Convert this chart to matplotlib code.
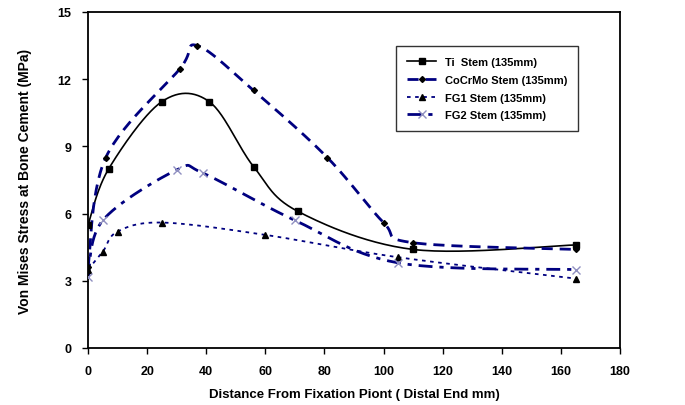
import numpy as np
import matplotlib
matplotlib.use("Agg")
import matplotlib.pyplot as plt

# values
ti_x = [0, 7, 25, 41, 56, 71, 110, 165]
ti_y = [5.5, 8.0, 11.0, 11.0, 8.1, 6.1, 4.4, 4.6]

cocr_x = [0, 6, 31, 37, 56, 81, 100, 110, 165]
cocr_y = [3.6, 8.5, 12.45, 13.5, 11.5, 8.5, 5.6, 4.7, 4.4]

fg1_x = [0, 5, 10, 25, 60, 105, 165]
fg1_y = [3.5, 4.3, 5.2, 5.6, 5.05, 4.05, 3.1]

fg2_x = [0, 5, 30, 39, 70, 105, 165]
fg2_y = [3.15, 5.7, 7.95, 7.8, 5.7, 3.8, 3.5]

x_ticks = list(range(0, 181, 20))
y_ticks = [0, 3, 6, 9, 12, 15]

NAVY = "#000080"
FONT = "Liberation Sans"


# excel style smoothed line: cubic bezier through the points
def smooth(xs, ys, n=30):
	xs = np.asarray(xs, float)
	ys = np.asarray(ys, float)
	px = np.concatenate([[xs[0]], xs, [xs[-1]]])
	py = np.concatenate([[ys[0]], ys, [ys[-1]]])
	out_x, out_y = [], []
	t = np.linspace(0, 1, n)
	for i in range(1, len(px) - 2):
		p0 = np.array([px[i], py[i]])
		p3 = np.array([px[i + 1], py[i + 1]])
		p1 = p0 + (np.array([px[i + 1], py[i + 1]]) - np.array([px[i - 1], py[i - 1]])) / 6
		p2 = p3 - (np.array([px[i + 2], py[i + 2]]) - np.array([px[i], py[i]])) / 6
		b = ((1 - t) ** 3)[:, None] * p0 + (3 * (1 - t) ** 2 * t)[:, None] * p1 \
			+ (3 * (1 - t) * t ** 2)[:, None] * p2 + (t ** 3)[:, None] * p3
		out_x.extend(b[:, 0])
		out_y.extend(b[:, 1])
	return out_x, out_y


fig = plt.figure(figsize=(6.85, 4.06), dpi=100)
ax = fig.add_axes([0.1285, 0.1404, 0.7765, 0.8276])

series = [
	(ti_x, ti_y, "Ti  Stem (135mm)", dict(color="black", lw=1.2, ls="-"),
		dict(marker="s", ms=5, mfc="black", mec="black")),
	(cocr_x, cocr_y, "CoCrMo Stem (135mm)", dict(color=NAVY, lw=2.0, ls=(0, (4, 2.5))),
		dict(marker="D", ms=3, mfc="black", mec="black")),
	(fg1_x, fg1_y, "FG1 Stem (135mm)", dict(color=NAVY, lw=1.3, ls=(0, (2, 2.5))),
		dict(marker="^", ms=4, mfc="black", mec="black")),
	(fg2_x, fg2_y, "FG2 Stem (135mm)", dict(color=NAVY, lw=2.0, ls=(0, (5, 2.5, 1.5, 2.5))),
		dict(marker="x", ms=6, mec="#8f8fc0", mew=1.0)),
]

handles = []
for xs, ys, name, lstyle, mstyle in series:
	sx, sy = smooth(xs, ys)
	ax.plot(sx, sy, zorder=2, **lstyle)
	ax.plot(xs, ys, ls="none", zorder=3, **mstyle)
	h, = ax.plot([], [], label=name, **lstyle, **mstyle)
	handles.append(h)

ax.set_xlim(0, 180)
ax.set_ylim(0, 15)
ax.set_xticks(x_ticks)
ax.set_yticks(y_ticks)
ax.tick_params(direction="out", length=4, width=1, pad=8)
for lab in ax.get_xticklabels() + ax.get_yticklabels():
	lab.set_fontfamily(FONT)
	lab.set_fontweight("bold")
	lab.set_fontsize(9)
for sp in ax.spines.values():
	sp.set_linewidth(1.3)

ax.set_xlabel("Distance From Fixation Piont ( Distal End mm)", fontfamily=FONT,
	fontweight="bold", fontsize=9.5, labelpad=8)
ax.set_ylabel("Von Mises Stress at Bone Cement (MPa)", fontfamily=FONT,
	fontweight="bold", fontsize=10, labelpad=18)

leg = ax.legend(handles=handles, loc="upper left", bbox_to_anchor=(0.579, 0.899),
	borderaxespad=0, frameon=True, fancybox=False, edgecolor="black", handlelength=2.6,
	prop=dict(family=FONT, weight="bold", size=8), borderpad=1.0, labelspacing=0.7)
leg.get_frame().set_linewidth(1.0)

fig.savefig("out.png", dpi=100)
